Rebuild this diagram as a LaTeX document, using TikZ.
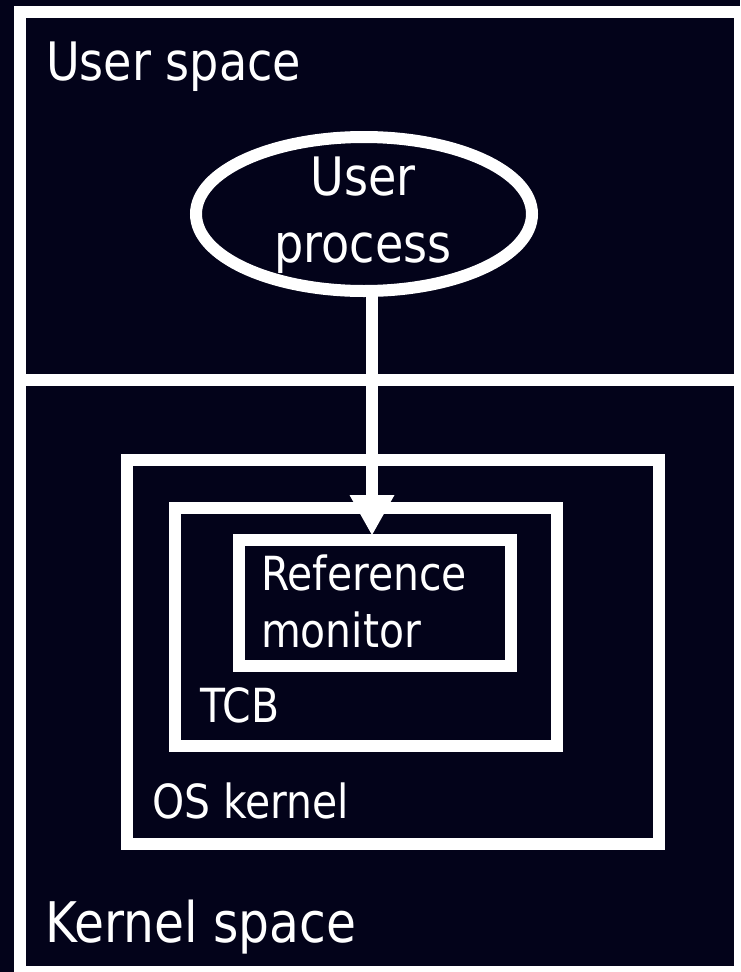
\documentclass[tikz,border=0pt]{standalone}
\usepackage{fontspec}
\setmainfont[FakeStretch=0.87]{DejaVu Sans}
\usetikzlibrary{arrows.meta,shapes.geometric}
\definecolor{bgnavy}{RGB}{3,3,26}
\begin{document}
\begin{tikzpicture}[x=1pt,y=-1pt,
  box/.style={draw=white,line width=12pt,inner sep=0pt,outer sep=0pt},
  lbl/.style={text=white,inner sep=0pt,outer sep=0pt},
  usertext/.style={font=\fontsize{53}{65}\selectfont},
  kerntext/.style={font=\fontsize{56}{67}\selectfont},
  midtext/.style={font=\fontsize{53}{67}\selectfont},
  smalltext/.style={font=\fontsize{47}{57}\selectfont},
  flow/.style={draw=white,line width=12pt,-{Triangle[width=45pt,length=40pt,line width=0pt]}}]
\useasboundingbox (0,0) rectangle (740,972);
\fill[bgnavy] (0,0) rectangle (740,972);
\clip (0,0) rectangle (740,972);
% regions
\node[box,minimum width=720pt,minimum height=368pt] (us) at (380,196) {};
\node[box,minimum width=720pt,minimum height=592pt] (ks) at (380,676) {};
\node[box,minimum width=532pt,minimum height=384pt] (os) at (393,652) {};
\node[box,minimum width=382pt,minimum height=238pt] (tcb) at (366,627) {};
\node[box,minimum width=272pt,minimum height=126pt] (rm) at (375,603) {};
\node[draw=white,line width=12pt,ellipse,inner sep=0pt,outer sep=0pt,
      minimum width=336pt,minimum height=154pt] (up) at (364,214) {};
% labels
\node[lbl,usertext,anchor=base west] (ust) at (46,80) {User space};
\node[lbl,kerntext,anchor=base west] (kst) at (45,942) {Kernel space};
\node[lbl,midtext,align=center,anchor=base] (upt) at (363,262) {User\\process};
\node[lbl,smalltext,align=left,anchor=base west] (rmt) at (261,647) {Reference\\monitor};
\node[lbl,smalltext,anchor=base west] (tcbt) at (200,722) {TCB};
\node[lbl,smalltext,anchor=base west] (ost) at (152,818) {OS kernel};
% connector
\coordinate (ax) at (372,0);
\draw[flow,shorten >=5pt] (up.south -| ax) -- (rm.north -| ax);
\end{tikzpicture}
\end{document}
